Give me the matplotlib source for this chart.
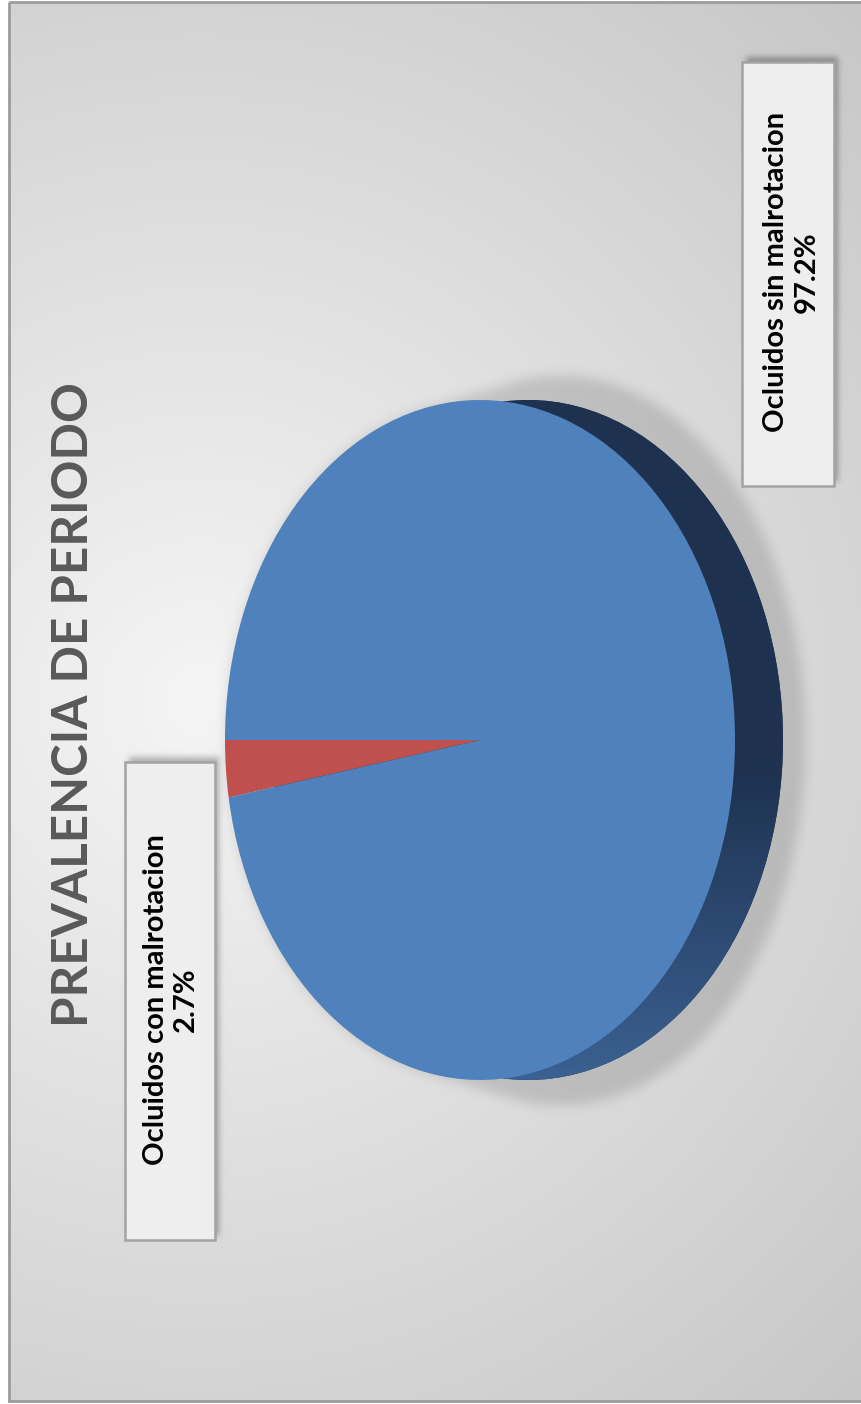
import numpy as np
import matplotlib.pyplot as plt
from matplotlib.patches import Ellipse, Rectangle
from matplotlib.colors import LinearSegmentedColormap

# datos del grafico
labels = ["Ocluidos con malrotacion", "Ocluidos sin malrotacion"]
values = [2.7, 97.2]
colors = ["#c0504d", "#4f81bd"]
title = "PREVALENCIA DE PERIODO"

W, H = 862, 1404
fig = plt.figure(figsize=(W / 100, H / 100), dpi=100)

# fondo en pixeles (y hacia abajo)
bg = fig.add_axes([0, 0, 1, 1])
bg.set_xlim(0, W)
bg.set_ylim(H, 0)
bg.axis("off")


def blur(img, sigma):
    r = int(3 * sigma)
    k = np.exp(-0.5 * (np.arange(-r, r + 1) / sigma) ** 2)
    k /= k.sum()
    img = np.apply_along_axis(lambda v: np.convolve(v, k, mode="same"), 0, img)
    img = np.apply_along_axis(lambda v: np.convolve(v, k, mode="same"), 1, img)
    return img


yy, xx = np.mgrid[0:H, 0:W]
shade = 0.96 - 0.18 * np.hypot(xx - 200, yy - 700) / 963

# sombra del pastel
cx, cy, a, b = 480, 740, 255, 340
mask = np.zeros((H, W))
for t in np.linspace(0, 1, 25):
    ex, ea, eb = cx + 80 * t, a - 10 * t, b + 25 * t
    mask = np.maximum(mask, (((xx - ex) / ea) ** 2 + ((yy - cy) / eb) ** 2 <= 1).astype(float))
shade -= 0.12 * blur(mask, 6)

# sombras de los cuadros de texto
boxes = [(125, 762, 90, 478), (742, 62, 92, 424)]
bmask = np.zeros((H, W))
for (bx, by, bw, bh) in boxes:
    bmask[by - 5:by + bh - 5, bx + 4:bx + bw + 4] = 1
shade -= 0.25 * blur(bmask, 3)

# marco exterior
outside = (xx < 9) | (yy < 2) | (yy > 1401)
shade[outside] = 1.0
bg.imshow(np.dstack([shade] * 3).clip(0, 1), extent=(0, W, H, 0), aspect="auto", zorder=0)
bg.add_patch(Rectangle((9, 2), W + 20, 1399, fill=False, ec="#9c9c9c", lw=2, zorder=1))

# cuadros de etiquetas
for (bx, by, bw, bh) in boxes:
    bg.add_patch(Rectangle((bx, by), bw, bh, fc="#eeeeee", ec="#a3a3a3", lw=1.8, zorder=2))

bg.text(74, 705, title, rotation=90, ha="center", va="center", fontsize=35.5,
        family="Lato", fontweight="bold", color="#595959", zorder=3)

label_pos = [(171, 1000), (791, 272)]
for lab, val, (tx, ty) in zip(labels, values, label_pos):
    bg.text(tx, ty, f"{lab}\n{val}%", rotation=90, ha="center", va="center",
            multialignment="center", fontsize=21, family="Lato", fontweight="bold",
            color="black", linespacing=1.22, zorder=3)

# pastel (elipse)
x0, x1, y0, y1 = -1.05, 1.25, -1.05, 1.05
left = cx + x0 * a
bottom = (H - cy) + y0 * b
pax = fig.add_axes([left / W, bottom / H, (x1 - x0) * a / W, (y1 - y0) * b / H])
wedges, _ = pax.pie(values, colors=colors, startangle=180, counterclock=True,
                    wedgeprops=dict(linewidth=0))

# lateral del cilindro
depth = 48 / a
side = Ellipse((depth, 0), 2, 2, fc="#1e3250", ec="none", zorder=0.5)
pax.add_patch(side)
side_cmap = LinearSegmentedColormap.from_list("side", [(0, "#3b6192"), (0.45, "#1e3250"), (1, "#1e3250")])
grad = np.linspace(0, 1, 256).reshape(-1, 1)
im = pax.imshow(grad, extent=(depth - 1, depth + 1, -1, 1), origin="lower", cmap=side_cmap,
                aspect="auto", zorder=0.6)
im.set_clip_path(side)

pax.set_aspect("auto")
pax.set_xlim(x0, x1)
pax.set_ylim(y0, y1)
pax.axis("off")

fig.savefig("out.png", dpi=100)
